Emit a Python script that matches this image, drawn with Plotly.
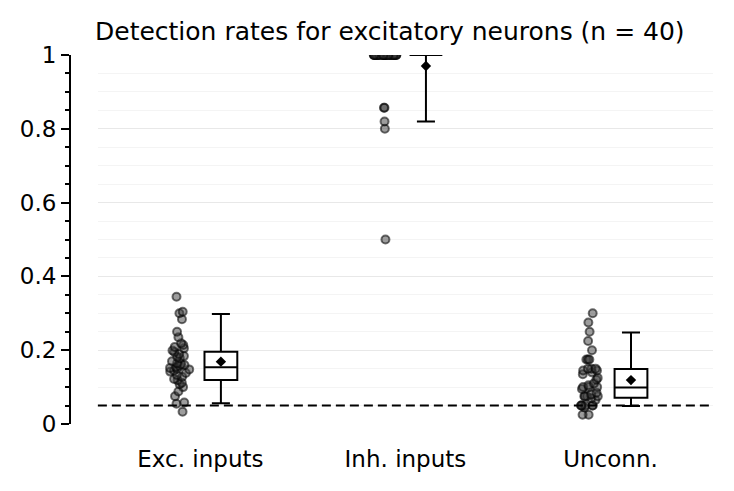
import plotly.graph_objects as go

categories = ["Exc. inputs", "Inh. inputs", "Unconn."]

exc_values = [0.345, 0.304, 0.300, 0.284, 0.250, 0.235, 0.219, 0.214, 0.209, 0.205,
              0.199, 0.195, 0.190, 0.184, 0.182, 0.178, 0.170, 0.165, 0.162, 0.160,
              0.157, 0.155, 0.152, 0.150, 0.148, 0.145, 0.142, 0.138, 0.133, 0.128,
              0.122, 0.119, 0.112, 0.108, 0.100, 0.088, 0.075, 0.058, 0.055, 0.033]
inh_values = [1.0] * 35 + [0.857, 0.857, 0.82, 0.80, 0.50]
unconn_values = [0.300, 0.275, 0.250, 0.225, 0.200, 0.175, 0.175, 0.175, 0.150, 0.145,
                 0.150, 0.150, 0.145, 0.140, 0.135, 0.125, 0.120, 0.110, 0.105, 0.100,
                 0.100, 0.100, 0.095, 0.085, 0.080, 0.075, 0.075, 0.075, 0.075, 0.070,
                 0.065, 0.050, 0.050, 0.050, 0.050, 0.050, 0.050, 0.045, 0.025, 0.025]

# box summary (whiskers at percentiles, as drawn)
q1_vals = [0.119, 1.0, 0.071]
median_vals = [0.154, 1.0, 0.099]
q3_vals = [0.196, 1.0, 0.149]
lower_whisker = [0.056, 0.82, 0.049]
upper_whisker = [0.298, 1.0, 0.248]
mean_vals = [0.169, 0.970, 0.119]

chance_level = 0.05

font_family = "DejaVu Sans"

# page body has an 8px margin; figure is sized to fit the window
W, H = 726, 483

pt_x, pt_y = [], []
for cat, vals in zip(categories, [exc_values, inh_values, unconn_values]):
    pt_x += [cat] * len(vals)
    pt_y += vals

fig = go.Figure()

# jittered individual points (left slot)
fig.add_trace(go.Box(
    x=pt_x, y=pt_y, boxpoints="all", jitter=0.7, pointpos=0,
    fillcolor="rgba(0,0,0,0)", line=dict(color="rgba(0,0,0,0)", width=0),
    marker=dict(size=8, color="rgba(60,60,60,0.5)",
                line=dict(color="rgba(0,0,0,0.55)", width=2)),
    showlegend=False, hoverinfo="y",
))

# box summary (right slot)
fig.add_trace(go.Box(
    x=categories, q1=q1_vals, median=median_vals, q3=q3_vals,
    lowerfence=lower_whisker, upperfence=upper_whisker,
    boxpoints=False, fillcolor="white", whiskerwidth=0.55,
    line=dict(color="black", width=2), showlegend=False,
))

# mean diamonds on a shifted overlay category axis
fig.add_trace(go.Scatter(
    x=categories, y=mean_vals, mode="markers", xaxis="x2",
    marker=dict(symbol="diamond", size=8, color="black"),
    showlegend=False,
))

fig.add_shape(type="line", xref="x domain", yref="y", x0=0, x1=1,
              y0=chance_level, y1=chance_level,
              line=dict(color="black", width=2, dash="9px,5px"))

xdom = [28 / (W - 59 - 21), 1.0]
fig.update_layout(
    width=W, height=H,
    margin=dict(l=59, r=21, t=47, b=67),
    paper_bgcolor="white", plot_bgcolor="white",
    font=dict(family=font_family, size=23, color="black"),
    boxmode="group", boxgap=0.6, boxgroupgap=0.2,
    title=dict(text="Detection rates for excitatory neurons (n = 40)",
               x=87 / W, xref="container", xanchor="left",
               y=1 - 23 / H, yref="container", yanchor="middle",
               font=dict(size=25, family=font_family, color="black")),
    xaxis=dict(domain=xdom, type="category", categoryarray=categories,
               range=[-0.5, 2.5], showline=False, showgrid=False,
               ticks="", ticklabelstandoff=19, tickfont=dict(size=23),
               zeroline=False),
    xaxis2=dict(domain=xdom, type="category", categoryarray=categories,
                overlaying="x", range=[-0.6, 2.4], visible=False),
    yaxis=dict(range=[0, 1], anchor="free", position=0,
               tickvals=[0, 0.2, 0.4, 0.6, 0.8, 1.0],
               ticktext=["0", "0.2", "0.4", "0.6", "0.8", "1"],
               showline=True, linecolor="black", linewidth=2,
               ticks="outside", ticklen=8, tickwidth=1.5, tickcolor="black",
               showgrid=True, gridcolor="#e8e8e8", gridwidth=1,
               zeroline=False, tickfont=dict(size=23),
               minor=dict(dtick=0.05, tick0=0, ticks="outside", ticklen=4,
                          tickwidth=1.5, tickcolor="black",
                          showgrid=True, gridcolor="#f4f4f4", gridwidth=1)),
)

fig.write_html("out.html")
